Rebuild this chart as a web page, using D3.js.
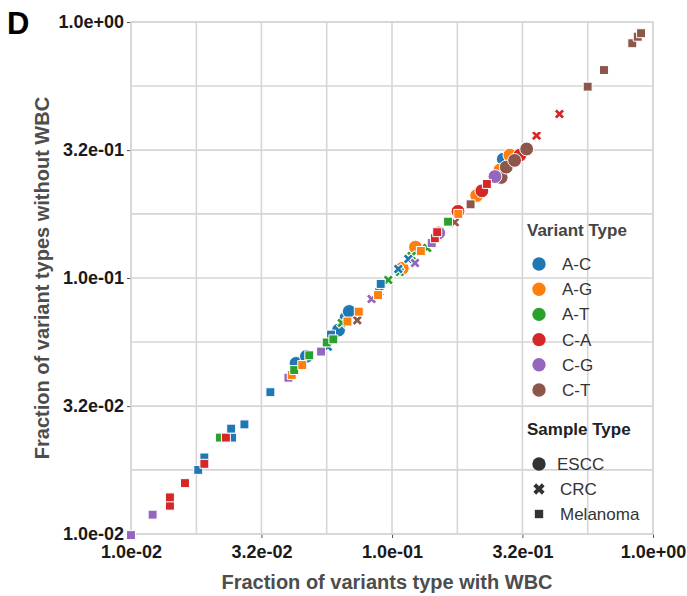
<!DOCTYPE html>
<html>
<head>
<meta charset="utf-8">
<script src="https://cdn.jsdelivr.net/npm/d3@7"></script>
<style>
  html, body { margin: 0; padding: 0; background: #fff; }
  svg { display: block; font-family: "Liberation Sans", Arial, sans-serif; }
</style>
</head>
<body>
<svg id="chart" width="687" height="596"></svg>
<script>
// Variant categories and their colours
const variantTypes = ["A-C", "A-G", "A-T", "C-A", "C-G", "C-T"];
const variantColors = ["#1f77b4", "#ff7f0e", "#2ca02c", "#d62728", "#9467bd", "#8c564b"];
const sampleTypes = ["ESCC", "CRC", "Melanoma"];

// Axis ticks (log scale, half-decade labels)
const tickValues = [0.01, 0.0316, 0.1, 0.316, 1];
const tickLabels = ["1.0e-02", "3.2e-02", "1.0e-01", "3.2e-01", "1.0e+00"];
const gridValues = [0.01, 0.0178, 0.0316, 0.0562, 0.1, 0.178, 0.316, 0.562, 1];

// [variant, fraction with WBC, fraction without WBC]
const esccPoints = [
  ["A-C", 0.0429, 0.0464], ["A-C", 0.0470, 0.0494], ["A-C", 0.0624, 0.0626],
  ["A-C", 0.0666, 0.0698], ["A-C", 0.0686, 0.0740], ["A-C", 0.267, 0.291],
  ["A-G", 0.259, 0.264], ["A-G", 0.283, 0.302],
  ["C-A", 0.309, 0.302], ["C-A", 0.179, 0.182],
  ["A-G", 0.1095, 0.1091], ["A-G", 0.123, 0.132],
  ["C-G", 0.151, 0.150], ["A-G", 0.211, 0.210], ["C-A", 0.221, 0.219],
  ["C-T", 0.262, 0.247], ["C-G", 0.248, 0.249],
  ["C-T", 0.274, 0.271], ["C-T", 0.295, 0.288], ["C-T", 0.328, 0.319]
];

const crcPoints = [
  ["A-T", 0.0642, 0.0667], ["A-C", 0.0568, 0.0539], ["C-T", 0.0736, 0.0684],
  ["A-T", 0.0894, 0.0884], ["A-T", 0.107, 0.1055], ["A-C", 0.1057, 0.1084],
  ["A-T", 0.119, 0.122], ["A-T", 0.1365, 0.131], ["C-T", 0.174, 0.165],
  ["C-G", 0.0835, 0.0828], ["A-T", 0.0968, 0.0982],
  ["A-C", 0.1155, 0.1187], ["C-G", 0.1225, 0.1145],
  ["C-A", 0.358, 0.360], ["C-A", 0.438, 0.437]
];

const melanomaPoints = [
  ["C-G", 0.0100, 0.0099], ["C-G", 0.0121, 0.0119],
  ["C-A", 0.0141, 0.0129], ["C-A", 0.0141, 0.0139], ["C-A", 0.0161, 0.0158],
  ["A-C", 0.0181, 0.0178], ["A-C", 0.0191, 0.0199], ["C-A", 0.0191, 0.0188],
  ["A-T", 0.0219, 0.0238], ["A-C", 0.0244, 0.0238], ["C-A", 0.0231, 0.0238],
  ["A-C", 0.0242, 0.0258], ["A-C", 0.0272, 0.0268], ["A-C", 0.0342, 0.0358],
  ["C-G", 0.0401, 0.0408], ["A-G", 0.0413, 0.0418], ["A-T", 0.0422, 0.0437],
  ["A-G", 0.0453, 0.0457], ["A-T", 0.0482, 0.0499], ["C-G", 0.0535, 0.0516],
  ["A-C", 0.0584, 0.0601], ["A-T", 0.0562, 0.0560], ["A-T", 0.0596, 0.0576],
  ["A-G", 0.0675, 0.0676], ["A-G", 0.0746, 0.0739], ["A-G", 0.0884, 0.0858],
  ["A-C", 0.0905, 0.0948], ["A-G", 0.129, 0.1275], ["C-G", 0.142, 0.137],
  ["C-A", 0.146, 0.143], ["C-A", 0.149, 0.151], ["A-T", 0.164, 0.166],
  ["A-G", 0.1795, 0.178], ["C-T", 0.200, 0.194], ["C-A", 0.231, 0.233],
  ["C-T", 0.562, 0.559], ["C-T", 0.649, 0.649], ["C-T", 0.833, 0.826],
  ["C-T", 0.874, 0.876], ["C-T", 0.900, 0.904]
];

const svg = d3.select("#chart");
const plotLeft = 131, plotRight = 653, plotTop = 22, plotBottom = 534;

const x = d3.scaleLog().domain([0.01, 1]).range([plotLeft, plotRight]);
const y = d3.scaleLog().domain([0.01, 1]).range([plotBottom, plotTop]);
const color = d3.scaleOrdinal().domain(variantTypes).range(variantColors);

// Symbols per sample type
const shapeOf = {
  "ESCC": d3.symbol().type(d3.symbolCircle).size(150),
  "CRC": d3.symbol().type(d3.symbolCross).size(70),
  "Melanoma": d3.symbol().type(d3.symbolSquare).size(80)
};
const rotOf = { "ESCC": 0, "CRC": 45, "Melanoma": 0 };

const gridColor = "#d6d6d6";

// Grid
const grid = svg.append("g");
grid.selectAll("line.v").data(gridValues).join("line")
  .attr("class", "v")
  .attr("x1", d => x(d)).attr("x2", d => x(d))
  .attr("y1", plotTop).attr("y2", plotBottom)
  .attr("stroke", gridColor).attr("stroke-width", 1.6);
grid.selectAll("line.h").data(gridValues).join("line")
  .attr("class", "h")
  .attr("y1", d => y(d)).attr("y2", d => y(d))
  .attr("x1", plotLeft).attr("x2", plotRight)
  .attr("stroke", gridColor).attr("stroke-width", 1.6);

// Axes
const fmt = d => tickLabels[tickValues.indexOf(d)];
const xAxis = svg.append("g").attr("transform", `translate(0,${plotBottom})`)
  .call(d3.axisBottom(x).tickValues(tickValues).tickFormat(fmt).tickSize(4).tickPadding(5));
const yAxis = svg.append("g").attr("transform", `translate(${plotLeft},0)`)
  .call(d3.axisLeft(y).tickValues(tickValues).tickFormat(fmt).tickSize(4).tickPadding(3));
[xAxis, yAxis].forEach(g => {
  g.select(".domain").remove();
  g.selectAll(".tick line").attr("stroke", "#555").attr("stroke-width", 1);
  g.selectAll(".tick text")
    .attr("font-size", 18).attr("font-weight", "bold").attr("fill", "#1a1a1a")
    .attr("font-family", "Liberation Sans, Arial, sans-serif");
});
xAxis.selectAll(".tick text").attr("dy", "0.85em");

// Panel frame
svg.append("rect")
  .attr("x", plotLeft).attr("y", plotTop)
  .attr("width", plotRight - plotLeft).attr("height", plotBottom - plotTop)
  .attr("fill", "none").attr("stroke", gridColor).attr("stroke-width", 1.6);

// Points
function drawPoints(points, sample) {
  svg.append("g").selectAll("path").data(points).join("path")
    .attr("d", shapeOf[sample])
    .attr("transform", d => `translate(${x(d[1])},${y(d[2])}) rotate(${rotOf[sample]})`)
    .attr("fill", d => color(d[0]))
    .attr("stroke", "#fff").attr("stroke-width", 1);
}
drawPoints(esccPoints, "ESCC");
drawPoints(crcPoints, "CRC");
drawPoints(melanomaPoints, "Melanoma");

// Axis titles
svg.append("text")
  .attr("x", 387).attr("y", 589)
  .attr("text-anchor", "middle")
  .attr("font-size", 20).attr("font-weight", "bold").attr("fill", "#4d4d4d")
  .text("Fraction of variants type with WBC");
svg.append("text")
  .attr("transform", `translate(49,${(plotTop + plotBottom) / 2}) rotate(-90)`)
  .attr("text-anchor", "middle")
  .attr("font-size", 20).attr("font-weight", "bold").attr("fill", "#4d4d4d")
  .text("Fraction of variant types without WBC");

// Panel letter
svg.append("text")
  .attr("x", 7).attr("y", 34)
  .attr("font-size", 31).attr("font-weight", "bold").attr("fill", "#000")
  .text("D");

// Legend: variant type
const lg = svg.append("g");
lg.append("text").attr("x", 527).attr("y", 236)
  .attr("font-size", 17).attr("font-weight", "bold").attr("fill", "#444")
  .text("Variant Type");
variantTypes.forEach((v, i) => {
  const cy = 264 + i * 25.2;
  lg.append("path").attr("d", d3.symbol().type(d3.symbolCircle).size(140)())
    .attr("transform", `translate(539,${cy})`).attr("fill", color(v));
  lg.append("text").attr("x", 562).attr("y", cy).attr("dy", "0.35em")
    .attr("font-size", 17).attr("fill", "#333").text(v);
});

// Legend: sample type
lg.append("text").attr("x", 527).attr("y", 435)
  .attr("font-size", 17).attr("font-weight", "bold").attr("fill", "#222")
  .text("Sample Type");
sampleTypes.forEach((s, i) => {
  const cy = 464 + i * 25;
  const sym = s === "ESCC" ? d3.symbol().type(d3.symbolCircle).size(140)
    : s === "CRC" ? d3.symbol().type(d3.symbolCross).size(80)
    : d3.symbol().type(d3.symbolSquare).size(70);
  lg.append("path").attr("d", sym())
    .attr("transform", `translate(539,${cy}) rotate(${rotOf[s]})`).attr("fill", "#333");
  lg.append("text").attr("x", s === "ESCC" ? 557 : 560).attr("y", cy).attr("dy", "0.35em")
    .attr("font-size", 17).attr("fill", "#333").text(s);
});
</script>
</body>
</html>
